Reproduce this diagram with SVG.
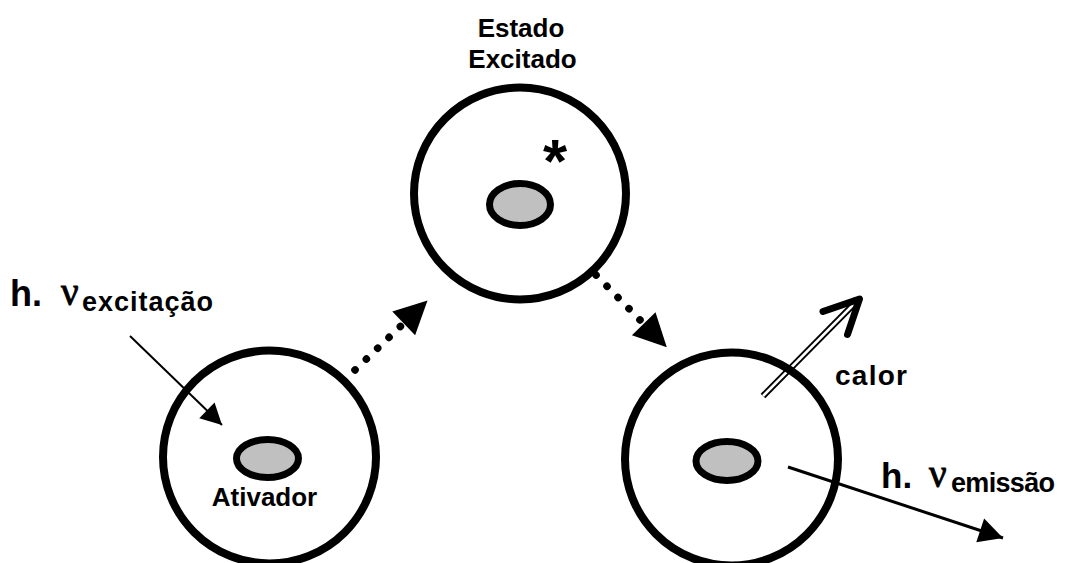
<svg xmlns="http://www.w3.org/2000/svg" width="1066" height="563" viewBox="0 0 1066 563">
<style>
.ring{fill:none;stroke:#000;stroke-width:8}
.core{fill:#c0c0c0;stroke:#000;stroke-width:7}
.lbl{font-family:"Liberation Sans",Arial,sans-serif;font-weight:bold;fill:#000}
.nu{font-family:"Liberation Serif","Times New Roman",serif;fill:#000;stroke:#000;stroke-width:0.9}
.dots{fill:none;stroke:#000;stroke-width:7.5;stroke-linecap:round;stroke-dasharray:0.1 15.6}
.thin{fill:none;stroke:#000;stroke-width:2}
.emit{fill:none;stroke:#000;stroke-width:3}
</style>
<defs>
<marker id="bigHead" markerUnits="userSpaceOnUse" markerWidth="34" markerHeight="34" refX="0" refY="16.5" orient="auto" overflow="visible">
<path d="M0,0 L33,16.5 L0,33 z" fill="#000"/>
</marker>
<marker id="thinHead" markerUnits="userSpaceOnUse" markerWidth="22" markerHeight="22" refX="21" refY="11" orient="auto" overflow="visible">
<path d="M0,0 L21,11 L0,22 z" fill="#000"/>
</marker>
<marker id="emitHead" markerUnits="userSpaceOnUse" markerWidth="25" markerHeight="25" refX="24" refY="12.5" orient="auto" overflow="visible">
<path d="M0,0 L24,12.5 L0,25 z" fill="#000"/>
</marker>
</defs>
<g id="connectors">
<line class="thin" x1="130" y1="336" x2="222" y2="425" marker-end="url(#thinHead)"/>
<line class="dots" x1="355" y1="370" x2="403.7" y2="323.3" marker-end="url(#bigHead)"/>
<line class="dots" x1="596" y1="275" x2="643.7" y2="323.7" marker-end="url(#bigHead)"/>
<g id="calor-arrow">
<line x1="763" y1="396" x2="853" y2="305" stroke="#000" stroke-width="6.5"/>
<line x1="763" y1="396" x2="853" y2="305" stroke="#fff" stroke-width="2.5"/>
<polyline points="823,311.5 859.5,299 847.5,334.5" fill="none" stroke="#000" stroke-width="7" stroke-linecap="round" stroke-linejoin="round"/>
</g>
<line class="emit" x1="788" y1="467" x2="1003" y2="538" marker-end="url(#emitHead)"/>
</g>
<g id="ativador">
<circle class="ring" cx="269.5" cy="457" r="106.5"/>
<ellipse class="core" cx="267.5" cy="458.5" rx="31" ry="19"/>
<text class="lbl" x="264.5" y="506" font-size="26" text-anchor="middle">Ativador</text>
</g>
<g id="estado-excitado">
<circle class="ring" cx="520" cy="193.5" r="106"/>
<ellipse class="core" cx="520" cy="204.5" rx="30.5" ry="21"/>
<text class="lbl" x="555" y="182" font-size="62" text-anchor="middle">*</text>
<text class="lbl" x="521" y="37" font-size="26" text-anchor="middle">Estado</text>
<text class="lbl" x="522.5" y="68" font-size="26" text-anchor="middle">Excitado</text>
</g>
<g id="emissor">
<circle class="ring" cx="731.5" cy="459" r="106.5"/>
<ellipse class="core" cx="727" cy="461" rx="31" ry="19.5"/>
</g>
<g id="labels">
<text class="lbl" x="10" y="306" font-size="36">h.</text>
<text class="nu" x="61" y="305" font-size="39">ν</text>
<text class="lbl" x="82" y="311" font-size="27" textLength="131" lengthAdjust="spacing">excitação</text>
<text class="lbl" x="835" y="385" font-size="28" textLength="72" lengthAdjust="spacing">calor</text>
<text class="lbl" x="881" y="488" font-size="35">h.</text>
<text class="nu" x="929" y="487" font-size="39">ν</text>
<text class="lbl" x="951" y="492" font-size="27" textLength="104" lengthAdjust="spacing">emissão</text>
</g>
</svg>
